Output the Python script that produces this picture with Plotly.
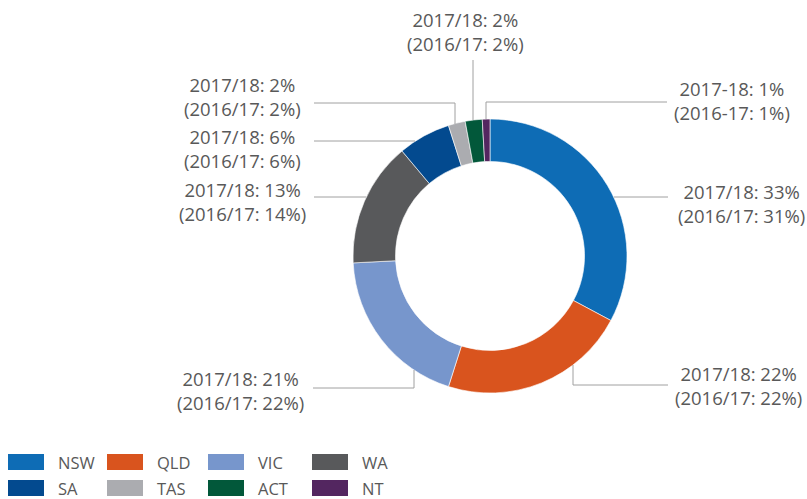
import plotly.graph_objects as go

W, H = 807, 499

# ---- data ----
regions = ["NSW", "QLD", "VIC", "WA", "SA", "TAS", "ACT", "NT"]
# slice shares as drawn in the reference (%)
shares = [32.8, 22.1, 19.3, 14.7, 6.2, 2.0, 2.0, 0.9]
label_2017_18 = ["2017/18: 33%", "2017/18: 22%", "2017/18: 21%", "2017/18: 13%",
                 "2017/18: 6%", "2017/18: 2%", "2017/18: 2%", "2017-18: 1%"]
label_2016_17 = ["(2016/17: 31%)", "(2016/17: 22%)", "(2016/17: 22%)", "(2016/17: 14%)",
                 "(2016/17: 6%)", "(2016/17: 2%)", "(2016/17: 2%)", "(2016-17: 1%)"]
colors = ["#0E6CB5", "#D9541E", "#7796CC", "#58595B",
          "#034A8F", "#ABACB0", "#02583A", "#532660"]

# ---- layout helpers (pixel -> paper) ----
def px(x):
    return x / W

def py(y):
    return 1 - y / H

cx, cy, R = 490, 256, 137

fig = go.Figure()
fig.add_trace(go.Pie(
    labels=regions,
    values=shares,
    sort=False,
    direction="clockwise",
    rotation=0,
    hole=0.69,
    marker=dict(colors=colors, line=dict(color="white", width=0.6)),
    textinfo="none",
    hoverinfo="label+percent",
    showlegend=False,
    domain=dict(x=[px(cx - R), px(cx + R)], y=[py(cy + R), py(cy - R)]),
))

# leader lines (pixel polylines) and label centres
leaders = [
    [(614, 197), (668, 197)],                 # NSW
    [(573, 365), (573, 385), (668, 385)],     # QLD
    [(414, 370), (414, 388), (313, 388)],     # VIC
    [(366, 197), (314, 197)],                 # WA
    [(415, 141), (314, 141)],                 # SA
    [(455, 124), (455, 103), (314, 103)],     # TAS
    [(473, 120), (473, 60)],                  # ACT
    [(486, 119), (486, 102), (667, 102)],     # NT
]
label_pos = [(741, 203), (738, 385), (240, 390), (242, 201),
             (242, 149), (242, 97), (465, 32), (732, 101)]

line_col = "#A0A0A0"
for pts in leaders:
    path = "M " + " L ".join(f"{px(x)},{py(y)}" for x, y in pts)
    fig.add_shape(type="path", path=path, xref="paper", yref="paper",
                  line=dict(color=line_col, width=1))

text_col = "#595959"
font = dict(family="Open Sans, sans-serif", size=18.5, color=text_col)
for (lx, ly), a, b in zip(label_pos, label_2017_18, label_2016_17):
    fig.add_annotation(x=px(lx), y=py(ly), xref="paper", yref="paper",
                       text=f"{a}<br>{b}", showarrow=False, align="center",
                       xanchor="center", yanchor="middle", font=font)

# custom legend (2 rows x 4 columns)
col_rect_x = [8, 107, 208, 312]
col_text_x = [56, 155, 256, 360]
row_y = [462, 488]
for i, (name, c) in enumerate(zip(regions, colors)):
    r, k = divmod(i, 4)
    x0 = col_rect_x[k]
    yc = row_y[r]
    fig.add_shape(type="rect", xref="paper", yref="paper",
                  x0=px(x0), x1=px(x0 + 36), y0=py(yc + 8), y1=py(yc - 8),
                  fillcolor=c, line=dict(width=0))
    fig.add_annotation(x=px(col_text_x[k]), y=py(yc), xref="paper", yref="paper",
                       text=name, showarrow=False, xanchor="left", yanchor="middle",
                       font=dict(family="Open Sans, sans-serif", size=16.5, color=text_col))

fig.update_layout(
    width=W, height=H,
    margin=dict(l=0, r=0, t=0, b=0),
    paper_bgcolor="white",
    plot_bgcolor="white",
    showlegend=False,
)

fig.write_html("out.html",
               config={"displayModeBar": False},
               post_script="document.body.style.margin='0';document.body.style.overflow='hidden';")
